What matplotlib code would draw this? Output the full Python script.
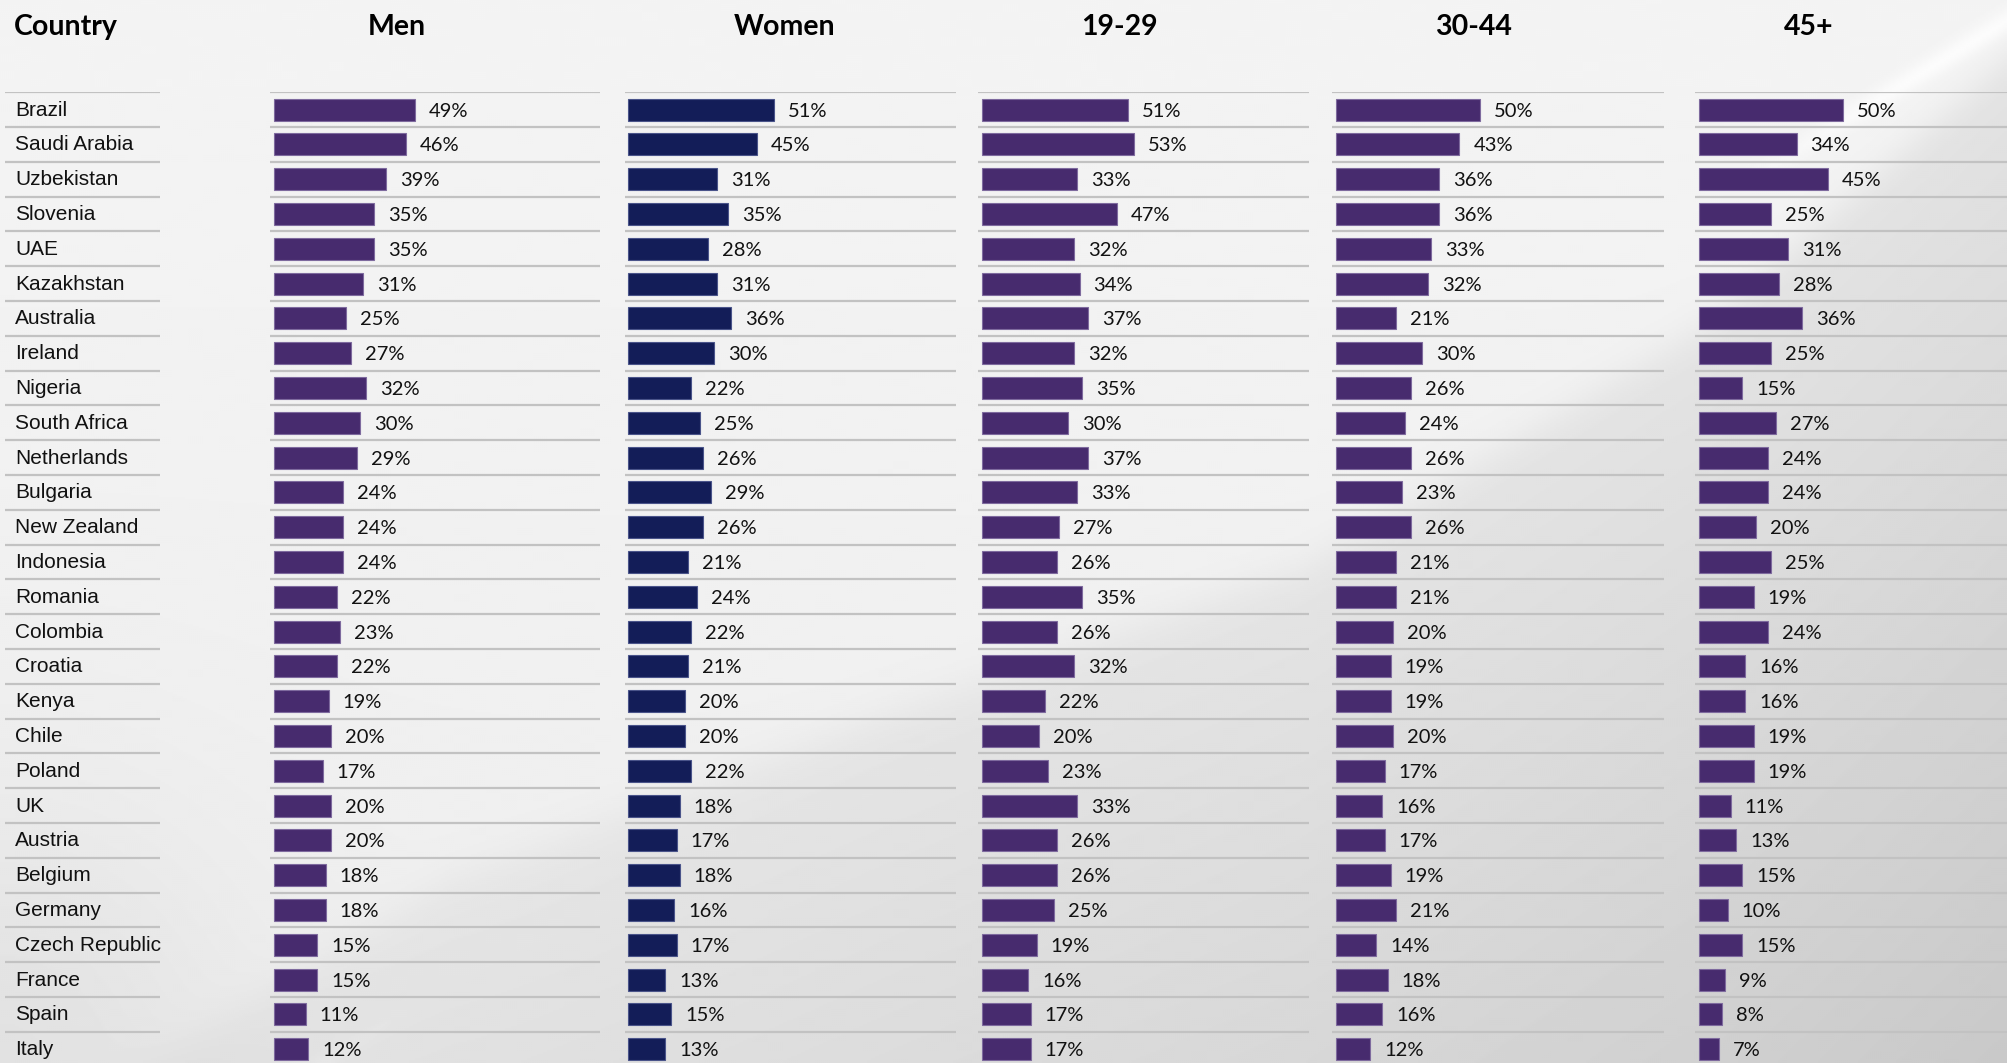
import numpy as np
import matplotlib
matplotlib.use("Agg")
import matplotlib.pyplot as plt

# ---- data ----
countries = ["Brazil", "Saudi Arabia", "Uzbekistan", "Slovenia", "UAE", "Kazakhstan",
             "Australia", "Ireland", "Nigeria", "South Africa", "Netherlands", "Bulgaria",
             "New Zealand", "Indonesia", "Romania", "Colombia", "Croatia", "Kenya", "Chile",
             "Poland", "UK", "Austria", "Belgium", "Germany", "Czech Republic", "France",
             "Spain", "Italy"]
groups = ["Men", "Women", "19-29", "30-44", "45+"]
men = [49, 46, 39, 35, 35, 31, 25, 27, 32, 30, 29, 24, 24, 24, 22, 23, 22, 19, 20, 17, 20, 20, 18, 18, 15, 15, 11, 12]
women = [51, 45, 31, 35, 28, 31, 36, 30, 22, 25, 26, 29, 26, 21, 24, 22, 21, 20, 20, 22, 18, 17, 18, 16, 17, 13, 15, 13]
age_19_29 = [51, 53, 33, 47, 32, 34, 37, 32, 35, 30, 37, 33, 27, 26, 35, 26, 32, 22, 20, 23, 33, 26, 26, 25, 19, 16, 17, 17]
age_30_44 = [50, 43, 36, 36, 33, 32, 21, 30, 26, 24, 26, 23, 26, 21, 21, 20, 19, 19, 20, 17, 16, 17, 19, 21, 14, 18, 16, 12]
age_45_plus = [50, 34, 45, 25, 31, 28, 36, 25, 15, 27, 24, 24, 20, 25, 19, 24, 16, 16, 19, 19, 11, 13, 15, 10, 15, 9, 8, 7]
series = [men, women, age_19_29, age_30_44, age_45_plus]

PURPLE = "#472B6E"
NAVY = "#131D58"
bar_colors = [PURPLE, NAVY, PURPLE, PURPLE, PURPLE]
edge_colors = ["#7E6A9E", "#4A548A", "#7E6A9E", "#7E6A9E", "#7E6A9E"]

# ---- layout (pixels) ----
W, H = 2007, 1063
TOP_LINE = 92.2      # y of first row separator
PITCH = 34.8         # row height
PX_PER_PCT = 2.87    # bar scale
# (line start, line end, bar start, header centre) for each group column
col_layout = [(270, 600, 274, 397), (625, 956, 628, 785), (978, 1309, 982, 1119),
              (1332, 1664, 1336, 1473), (1695, 2007, 1699, 1809)]
country_col = (5, 160)

fig = plt.figure(figsize=(W / 100, H / 100), dpi=100)

# ---- background: soft grey with a diagonal light/dark swoosh ----
bg = fig.add_axes([0, 0, 1, 1], zorder=-10)
ny, nx = 532, 1004
yy, xx = np.mgrid[0:1:ny * 1j, 0:1:nx * 1j]
bx = np.array([0, 150, 450, 900, 1300, 1700, 2007]) / W
by = np.array([1150, 1063, 880, 710, 570, 330, 60]) / H
yb = np.interp(xx, bx, by)
below = yy - yb                      # >0 under the swoosh edge
dark_w = 1 / (1 + np.exp(-below / 0.012))
light_val = 0.955 - 0.02 * yy
dark_val = 0.905 - 0.11 * np.clip(below, 0, None) - 0.015 * xx
base = light_val * (1 - dark_w) + dark_val * dark_w
# lower-left corner shading and a thin light streak next to it
corner = np.exp(-(((xx) / 0.12) ** 2 + ((1 - yy) / 0.25) ** 2))
base -= 0.05 * corner
d1 = (yy - np.interp(xx, bx, by + 0.10))
fade_left = 1 / (1 + np.exp((xx - 0.17) / 0.02))
base += 0.03 * np.exp(-(d1 / 0.01) ** 2) * fade_left
# bright streak at the top right
d2 = yy - (0.02 + (1.0 - xx) * 1.15)
fade_right = 1 / (1 + np.exp(-(xx - 0.9) / 0.02))
base += 0.035 * np.exp(-(d2 / 0.012) ** 2) * fade_right
base = np.clip(base, 0, 1)
bg.imshow(base, cmap="gray", vmin=0, vmax=1, aspect="auto", extent=[0, 1, 0, 1],
          interpolation="bilinear")
bg.set_axis_off()

ax_bottom = 0.0
ax_height = (H - TOP_LINE) / H
n_vis = (H - TOP_LINE) / PITCH
ylim = (-0.5 + n_vis, -0.5)
rows = np.arange(len(countries))
LINE_COLOR = "#C2C2C2"

label_font = dict(family=["Liberation Sans", "DejaVu Sans"], size=15, color="#111111")
value_font = dict(family=["Lato", "DejaVu Sans"], size=14.5, color="#111111")
head_font = dict(family=["Lato", "DejaVu Sans"], size=20.5, weight="bold", color="#000000")
HEAD_BASE = 35  # header baseline, pixels from top

# country column
x0, x1 = country_col
axc = fig.add_axes([x0 / W, ax_bottom, (x1 - x0) / W, ax_height])
axc.set_xlim(0, 1)
axc.set_ylim(*ylim)
axc.set_axis_off()
for k in range(len(countries) + 1):
    axc.axhline(k - 0.5, color=LINE_COLOR, lw=1.6, zorder=1)
for i, name in enumerate(countries):
    axc.annotate(name, xy=(0, i), xytext=(10, -6), textcoords="offset pixels",
                 va="baseline", ha="left", annotation_clip=False, **label_font)
fig.text(14 / W, 1 - HEAD_BASE / H, "Country", ha="left", va="baseline", **head_font)

# one panel per group
for g, vals, col, ec, (ls, le, bs, hc) in zip(groups, series, bar_colors, edge_colors, col_layout):
    ax = fig.add_axes([ls / W, ax_bottom, (le - ls) / W, ax_height])
    ax.set_xlim(-(bs - ls) / PX_PER_PCT, (le - bs) / PX_PER_PCT)
    ax.set_ylim(*ylim)
    ax.set_axis_off()
    for k in range(len(countries) + 1):
        ax.axhline(k - 0.5, color=LINE_COLOR, lw=1.6, zorder=1)
    ax.barh(rows, vals, height=0.63, left=0, color=col, edgecolor=ec, linewidth=0.8, zorder=2)
    for i, v in enumerate(vals):
        ax.annotate(f"{v}%", xy=(v, i), xytext=(14, -7), textcoords="offset pixels",
                    va="baseline", ha="left", annotation_clip=False, **value_font)
    fig.text(hc / W, 1 - HEAD_BASE / H, g, ha="center", va="baseline", **head_font)

fig.savefig("out.png", dpi=100)
